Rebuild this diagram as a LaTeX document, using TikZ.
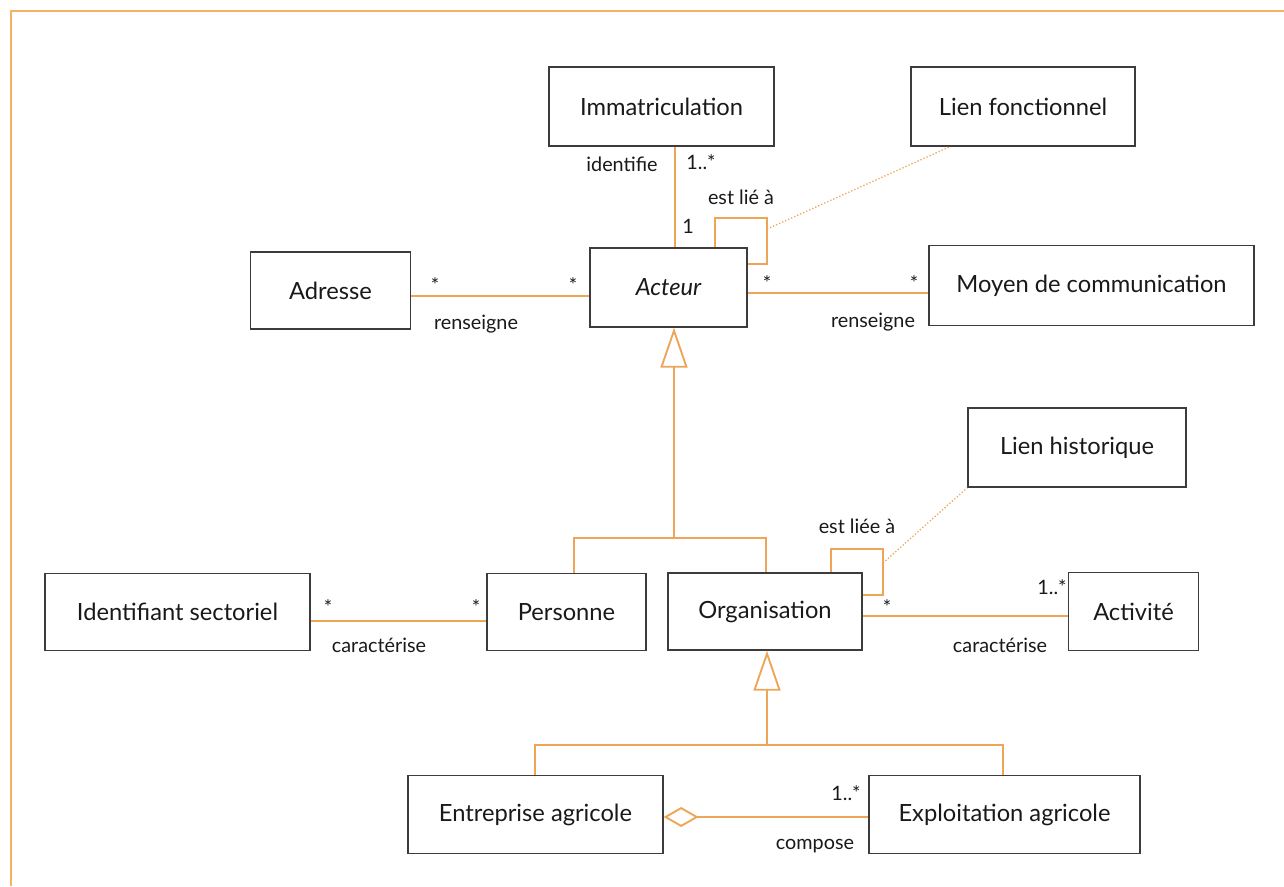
\documentclass[tikz,border=0pt]{standalone}
\usepackage{fontspec}
\setmainfont{Lato}
\usetikzlibrary{arrows.meta}

\definecolor{umlorange}{RGB}{238,165,88}
\definecolor{frameorange}{RGB}{246,178,98}
\definecolor{boxgray}{RGB}{60,60,60}
\definecolor{txt}{RGB}{25,25,25}

\begin{document}
\begin{tikzpicture}
  [
    x = 1pt, y = -1pt,
    box/.style = {draw = boxgray, line width = 1.3pt, inner sep = 0pt,
                  text = txt, font = \fontsize{23.7}{26}\selectfont},
    assoc/.style = {draw = umlorange, line width = 1.9pt},
    note/.style = {draw = umlorange, line width = 1.3pt, dotted},
    generalize/.style = {assoc, -{Triangle[open, length = 40pt, width = 27pt]}},
    aggregate/.style = {assoc, {Diamond[open, length = 35pt, width = 20pt]}-}
  ]
  \useasboundingbox (0,0) rectangle (1284,886);
  \draw[frameorange, line width = 2pt] (10.7,886) |- (1284,10.7);

  % classes
  \node[box, minimum width = 225pt, minimum height = 79pt] (Immat) at (661.5,106.5) {Immatriculation};
  \node[box, minimum width = 224pt, minimum height = 79pt] (LienF) at (1023,106.5) {Lien fonctionnel};
  \node[box, minimum width = 160pt, minimum height = 77pt] (Adresse) at (330.5,290.5) {Adresse};
  \node[box, minimum width = 157pt, minimum height = 79pt] (Acteur) at (668.5,287.5) {\itshape Acteur};
  \node[box, minimum width = 325pt, minimum height = 80pt] (Moyen) at (1091.5,285.5) {Moyen de communication};
  \node[box, minimum width = 218pt, minimum height = 79pt] (LienH) at (1077,447.5) {Lien historique};
  \node[box, minimum width = 265pt, minimum height = 77pt] (Ident) at (177.5,612) {Identifiant sectoriel};
  \node[box, minimum width = 159pt, minimum height = 77pt] (Personne) at (566.5,612) {Personne};
  \node[box, minimum width = 194pt, minimum height = 77pt] (Organisation) at (765,611.5) {Organisation};
  \node[box, minimum width = 130pt, minimum height = 78pt] (Activite) at (1133.5,611.5) {Activité};
  \node[box, minimum width = 255pt, minimum height = 78pt] (Entreprise) at (535.5,814.5) {Entreprise agricole};
  \node[box, minimum width = 271pt, minimum height = 78pt] (Exploitation) at (1004.5,814.5) {Exploitation agricole};

  % associations
  \draw[assoc] (Immat.south -| 675,0) -- (Acteur.north -| 675,0);
  \draw[assoc] (Adresse.east |- 0,296) -- (Acteur.west |- 0,296);
  \draw[assoc] (Acteur.east |- 0,293) -- (Moyen.west |- 0,293);
  \draw[assoc] (Ident.east |- 0,621) -- (Personne.west |- 0,621);
  \draw[assoc] (Organisation.east |- 0,616) -- (Activite.west |- 0,616);
  \draw[aggregate] (Entreprise.east |- 0,817) -- (Exploitation.west |- 0,817);

  % reflexive links
  \coordinate (loopA) at (767,218);
  \draw[assoc] (Acteur.north -| 715,0) |- (loopA) |- (Acteur.east |- 0,264);
  \draw[note] ([yshift = -11pt]loopA) -- ([xshift = -73pt]LienF.south);
  \coordinate (loopB) at (883,549);
  \draw[assoc] (Organisation.north -| 831,0) |- (loopB) |- (Organisation.east |- 0,595);
  \draw[note] ([yshift = -14pt]loopB) -- (LienH.south west);

  % generalizations
  \coordinate (genA) at (674,538);
  \draw[assoc] (Personne.north -| 574,0) |- (genA) -| (Organisation.north -| 766,0);
  \draw[generalize] (genA) -- (genA |- Acteur.south);
  \coordinate (genB) at (767,745);
  \draw[assoc] (Entreprise.north -| 535,0) |- (genB) -| (Exploitation.north -| 1003,0);
  \draw[generalize] (genB) -- (genB |- Organisation.south);

  % roles and multiplicities
  \begin{scope}[every node/.style = {text = txt, font = \fontsize{19.8}{22}\selectfont, inner sep = 0pt}]
    \node (l1) at (622,164) {identifie};
    \node (l2) at (701,162) {1..*};
    \node (l3) at (688,226) {1};
    \node (l4) at (741,197) {est lié à};
    \node (l5) at (435,285) {*};
    \node (l6) at (573,285) {*};
    \node (l7) at (476,324) {renseigne};
    \node (l8) at (767,283) {*};
    \node (l9) at (914,283) {*};
    \node (l10) at (873,322) {renseigne};
    \node (l11) at (857,526) {est liée à};
    \node (l12) at (328,607) {*};
    \node (l13) at (476,607) {*};
    \node (l14) at (379,645) {caractérise};
    \node (l15) at (887,607) {*};
    \node (l16) at (1052,587) {1..*};
    \node (l17) at (1000,645) {caractérise};
    \node (l18) at (846,793) {1..*};
    \node (l19) at (815,846) {compose};
  \end{scope}
\end{tikzpicture}
\end{document}
